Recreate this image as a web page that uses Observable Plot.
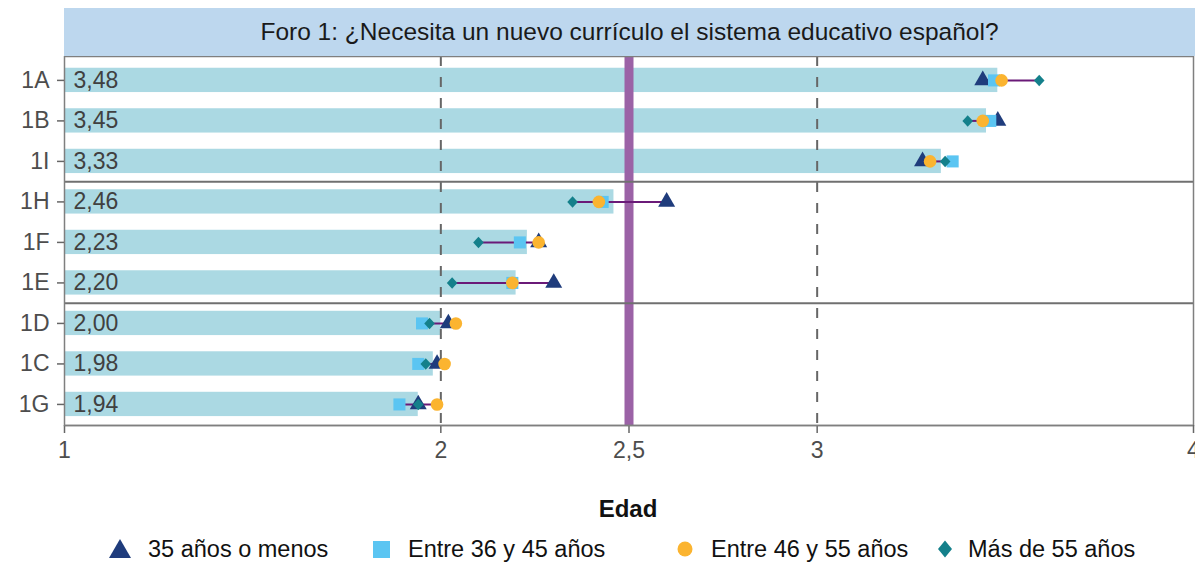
<!DOCTYPE html>
<html><head><meta charset="utf-8">
<script src="https://cdn.jsdelivr.net/npm/d3@7"></script>
<script src="https://cdn.jsdelivr.net/npm/@observablehq/plot@0.6"></script>
<style>
body{margin:0;background:#fff;font-family:"Liberation Sans",Arial,sans-serif;}
#wrap{position:relative;width:1195px;height:565px;overflow:hidden;}
#strip{position:absolute;left:64px;top:8px;width:1131px;height:48px;background:#bdd7ee;display:flex;align-items:center;justify-content:center;font-size:24.5px;color:#1a1a1a;}
#chart{position:absolute;left:0;top:56px;}
#xlabel{position:absolute;left:0;width:1256px;top:495px;text-align:center;font-weight:bold;font-size:24px;color:#111;}
.leg{position:absolute;top:535px;height:28px;display:flex;align-items:center;font-size:23.5px;color:#111;white-space:nowrap;}
</style></head>
<body><div id="wrap">
<div id="strip">Foro 1: ¿Necesita un nuevo currículo el sistema educativo español?</div>
<div id="chart"></div>
<div id="xlabel">Edad</div>
<div id="legend"></div>
</div>
<script>
const categories = ["1A","1B","1I","1H","1F","1E","1D","1C","1G"];
const means      = [3.48, 3.45, 3.33, 2.46, 2.23, 2.20, 2.00, 1.98, 1.94];
const g35        = [3.44, 3.48, 3.28, 2.60, 2.26, 2.30, 2.02, 1.99, 1.94];
const g36_45     = [3.47, 3.46, 3.36, 2.43, 2.21, 2.19, 1.95, 1.94, 1.89];
const g46_55     = [3.49, 3.44, 3.30, 2.42, 2.26, 2.19, 2.04, 2.01, 1.99];
const g55        = [3.59, 3.40, 3.34, 2.35, 2.10, 2.03, 1.97, 1.96, 1.94];
const groupNames = ["35 años o menos","Entre 36 y 45 años","Entre 46 y 55 años","Más de 55 años"];
const groupColors = ["#1f3c7c","#5bc5f2","#fbb430","#14808b"];
const xTicks = [1, 2, 2.5, 3, 4];
const separators = [2.5, 5.5];
const reference = 2.5;

const fmt = v => v.toFixed(2).replace(".", ",");
const fmtTick = v => String(v).replace(".", ",");

const diamond = {draw(ctx, size){ const r = Math.sqrt(size/2); ctx.moveTo(0,-r); ctx.lineTo(r*0.92,0); ctx.lineTo(0,r); ctx.lineTo(-r*0.92,0); ctx.closePath(); }};

const rows = categories.map((c,i) => {
  const vals = [g35[i], g36_45[i], g46_55[i], g55[i]];
  return {cat:c, i, mean:means[i], min:d3.min(vals), max:d3.max(vals)};
});
const pts = (arr) => categories.map((c,i) => ({i, v:arr[i]}));

const plot = Plot.plot({
  width: 1195, height: 419,
  marginTop: 0, marginLeft: 64, marginRight: 2, marginBottom: 50,
  style: {fontSize: "23px", fontFamily: "Liberation Sans, Arial, sans-serif", color: "#4d4d4d", background: "#fff"},
  x: {domain: [1, 4]},
  y: {domain: [-0.59, 8.52], range: [0, 369]},
  marks: [
    Plot.rectX(rows, {x1: 1, x2: "mean", y1: d => d.i - 0.3, y2: d => d.i + 0.3, fill: "#abd9e3"}),
    Plot.ruleX([2, 3], {stroke: "#666", strokeWidth: 2, strokeDasharray: "10,11"}),
    Plot.ruleX([reference], {stroke: "#9b62a6", strokeWidth: 9}),
    Plot.ruleY(separators, {stroke: "#707070", strokeWidth: 2}),
    Plot.frame({stroke: "#7f7f7f", strokeWidth: 1.5}),
    Plot.ruleY(rows, {y: "i", x1: "min", x2: "max", stroke: "#6a1a78", strokeWidth: 2}),
    Plot.dot(pts(g35), {x: "v", y: "i", symbol: "triangle", r: 6.3, fill: groupColors[0]}),
    Plot.dot(pts(g36_45), {x: "v", y: "i", symbol: "square", r: 6.8, fill: groupColors[1]}),
    Plot.dot(pts(g46_55), {x: "v", y: "i", symbol: "circle", r: 6.3, fill: groupColors[2]}),
    Plot.dot(pts(g55), {x: "v", y: "i", symbol: diamond, r: 4.6, fill: groupColors[3]}),
    Plot.text(rows, {x: 1, y: "i", text: d => fmt(d.mean), textAnchor: "start", dx: 9, fontSize: 23, fill: "#404040"}),
    Plot.axisX({ticks: xTicks, tickFormat: fmtTick, tickSize: 8, tickPadding: 8, stroke: "#666", strokeWidth: 1.5, label: null}),
    Plot.ruleY([8.52], {stroke: "#7f7f7f", strokeWidth: 1.5}),
    Plot.axisY({ticks: d3.range(categories.length), tickFormat: i => categories[i], tickSize: 7, tickPadding: 8, stroke: "#666", strokeWidth: 1.5, label: null})
  ]
});
document.getElementById("chart").appendChild(plot);

// Legend
const legend = document.getElementById("legend");
const legSymbols = [
  '<svg width="24" height="22" viewBox="-12 -11 24 22"><path d="M0,-10L11,9L-11,9Z" fill="'+groupColors[0]+'"/></svg>',
  '<svg width="17" height="17" viewBox="0 0 17 17"><rect width="17" height="17" fill="'+groupColors[1]+'"/></svg>',
  '<svg width="16" height="16" viewBox="0 0 16 16"><circle cx="8" cy="8" r="7.5" fill="'+groupColors[2]+'"/></svg>',
  '<svg width="14" height="18" viewBox="-7 -9 14 18"><path d="M0,-8.5L7,0L0,8.5L-7,0Z" fill="'+groupColors[3]+'"/></svg>'
];
const legLeft = [108, 373, 677, 938];
const gaps = [16, 18, 18, 16];
groupNames.forEach((n, k) => {
  const d = document.createElement("div");
  d.className = "leg";
  d.style.left = legLeft[k] + "px";
  d.innerHTML = legSymbols[k].replace("<svg", '<svg style="margin-right:'+gaps[k]+'px"') + '<span>' + n + '</span>';
  legend.appendChild(d);
});
</script>
</body></html>
